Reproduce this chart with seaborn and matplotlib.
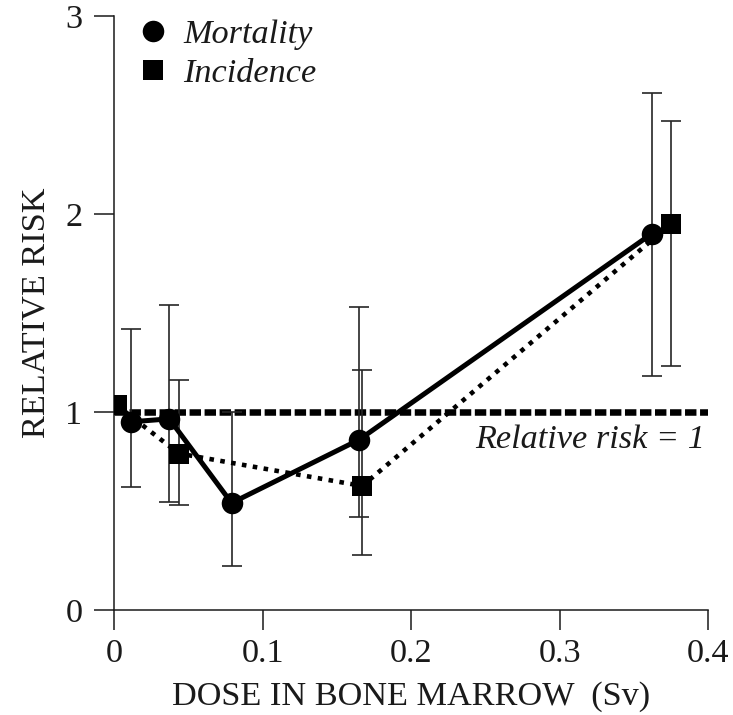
import numpy as np
import pandas as pd
import matplotlib
matplotlib.use("Agg")
import matplotlib.pyplot as plt
from matplotlib.lines import Line2D
import seaborn as sns

# ---- data ----
mort_dose = [0.011, 0.037, 0.079, 0.165, 0.362]
mort_rr   = [0.95, 0.965, 0.54, 0.86, 1.90]
mort_lo   = [0.62, 0.547, 0.22, 0.47, 1.18]
mort_hi   = [1.42, 1.54, 1.00, 1.53, 2.61]

inc_dose = [0.0015, 0.0434, 0.167, 0.375]
inc_rr   = [1.035, 0.79, 0.626, 1.95]
inc_lo   = [1.035, 0.53, 0.278, 1.23]
inc_hi   = [1.035, 1.16, 1.21, 2.47]

x_ticks = [0, 0.1, 0.2, 0.3, 0.4]
x_ticklabels = ["0", "0.1", "0.2", "0.3", "0.4"]
y_ticks = [0, 1, 2, 3]
y_ticklabels = ["0", "1", "2", "3"]
series_names = ["Mortality", "Incidence"]
ref_value = 1
ref_label = "Relative risk = 1"
x_label = "DOSE IN BONE MARROW  (Sv)"
y_label = "RELATIVE RISK"

sns.set_theme(style="ticks")
plt.rcParams["font.family"] = ["Liberation Serif", "DejaVu Serif"]

FS = 24.7
INK = "#1a1a1a"

fig = plt.figure(figsize=(7.33, 7.15), dpi=100)
ax = fig.add_axes([0.156, 0.147, 0.81, 0.8306])

mort = pd.DataFrame({"dose": mort_dose, "rr": mort_rr})
inc = pd.DataFrame({"dose": inc_dose, "rr": inc_rr})

# reference line
ax.axhline(ref_value, xmin=0, xmax=1, color="black", lw=4.7,
           dashes=(1.75, 0.55), zorder=2, solid_capstyle="butt")

# error bars
m_y = np.array(mort_rr)
ax.errorbar(mort_dose, mort_rr,
            yerr=[m_y - np.array(mort_lo), np.array(mort_hi) - m_y],
            fmt="none", ecolor="#262626", elinewidth=1.2, capsize=7,
            capthick=1.2, zorder=3)
i_y = np.array(inc_rr)
ax.errorbar(inc_dose, inc_rr,
            yerr=[i_y - np.array(inc_lo), np.array(inc_hi) - i_y],
            fmt="none", ecolor="#262626", elinewidth=1.2, capsize=7,
            capthick=1.2, zorder=3)

# series lines + markers
sns.lineplot(data=inc, x="dose", y="rr", ax=ax, color="black", lw=3.3,
             marker="s", markersize=15, markeredgewidth=0,
             dashes=(1.0, 1.4), zorder=4)
sns.lineplot(data=mort, x="dose", y="rr", ax=ax, color="black", lw=3.6,
             marker="o", markersize=15.5, markeredgewidth=0, zorder=5)

ax.set_xlim(0, 0.4)
ax.set_ylim(0, 3)
ax.set_xticks(x_ticks)
ax.set_xticklabels(x_ticklabels)
ax.set_yticks(y_ticks)
ax.set_yticklabels(y_ticklabels)
ax.tick_params(direction="out", length=14.5, width=1.1, colors=INK,
               labelsize=FS)
ax.tick_params(axis="x", pad=6)
ax.tick_params(axis="y", pad=8.5)
ax.set_xlabel(x_label, fontsize=FS, color=INK, labelpad=9)
ax.set_ylabel(y_label, fontsize=FS, color=INK, labelpad=10)

sns.despine(ax=ax)
for s in ["left", "bottom"]:
    ax.spines[s].set_linewidth(1.1)
    ax.spines[s].set_color(INK)

ax.text(0.398, 0.86, ref_label, ha="right", va="center", fontsize=FS,
        style="italic", color=INK)

handles = [Line2D([], [], ls="none", marker="o", markersize=15.5,
                  color="black", markeredgewidth=0),
           Line2D([], [], ls="none", marker="s", markersize=15,
                  color="black", markeredgewidth=0)]
leg = ax.legend(handles, series_names, loc="upper left",
                bbox_to_anchor=(0.036, 0.995), frameon=False,
                prop={"size": FS, "style": "italic"},
                handlelength=1.0, handletextpad=0.38, labelspacing=0.22,
                borderpad=0, borderaxespad=0)
for t in leg.get_texts():
    t.set_color(INK)

fig.savefig("out.png", dpi=100)
